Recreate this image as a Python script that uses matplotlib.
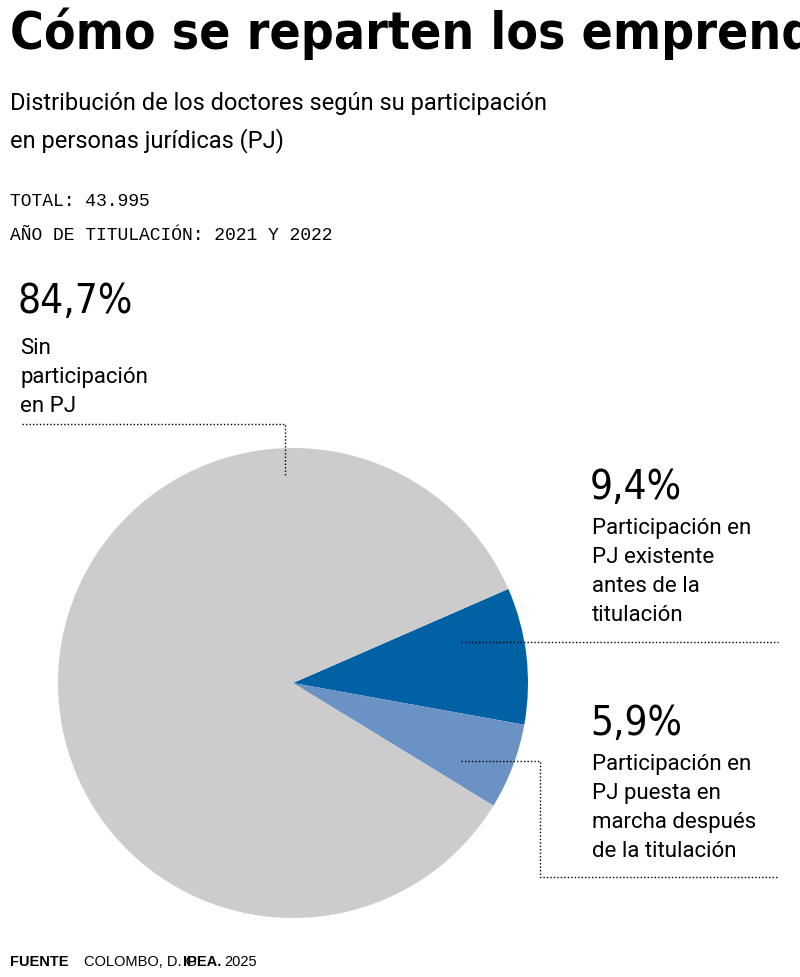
import matplotlib
matplotlib.use("Agg")
import matplotlib.pyplot as plt

labels = ["Participación en\nPJ existente\nantes de la\ntitulación",
          "Participación en\nPJ puesta en\nmarcha después\nde la titulación",
          "Sin\nparticipación\nen PJ"]
shares = [9.4, 5.9, 84.7]
colors = ["#0061a5", "#6b92c4", "#cccccc"]

fig = plt.figure(figsize=(8, 9.78), dpi=100)
ax = fig.add_axes([0, 0, 1, 1])

# pie starts at the upper edge of the dark slice
ax.pie(shares, colors=colors, center=(293, 684), radius=235,
       startangle=-23.6, counterclock=True, frame=True,
       wedgeprops=dict(linewidth=0))
ax.set_xlim(0, 800)
ax.set_ylim(978, 0)
ax.set_aspect("equal")
ax.axis("off")

ax.text(10, 8, "Cómo se reparten los emprendedores", fontsize=37,
        family="DejaVu Sans", stretch="condensed", weight="bold", va="top")
ax.text(10, 92, "Distribución de los doctores según su participación\nen personas jurídicas (PJ)",
        fontsize=17, family="Roboto", va="top", linespacing=1.65)
ax.text(10, 193, "TOTAL: 43.995", fontsize=13, family="Liberation Mono", va="top")
ax.text(10, 227, "AÑO DE TITULACIÓN: 2021 Y 2022", fontsize=13, family="Liberation Mono", va="top")

pct_pos = [(590, 468), (590, 704), (18, 282)]
lab_pos = [(592, 518), (592, 754), (20, 338)]
for s, l, pp, lp in zip(shares, labels, pct_pos, lab_pos):
    ax.text(pp[0], pp[1], f"{s:.1f}%".replace(".", ","), fontsize=29,
            family="DejaVu Sans", stretch="condensed", weight="light", va="top")
    ax.text(lp[0], lp[1], l, fontsize=16, family="Roboto", va="top", linespacing=1.5)

lk = dict(color="black", linestyle=(0, (1, 1.5)), linewidth=1)
ax.plot([22, 285, 285], [425, 425, 478], **lk)
ax.plot([461, 778], [643, 643], **lk)
ax.plot([461, 540, 540, 778], [762, 762, 878, 878], **lk)

ax.text(10, 966, "FUENTE", fontsize=10.5, weight="bold", family="Liberation Sans", va="baseline")
ax.text(84, 966, "COLOMBO, D. G.", fontsize=10.5, family="Liberation Sans", va="baseline")
ax.text(183, 966, "IPEA.", fontsize=10.5, weight="bold", family="Liberation Sans", va="baseline")
ax.text(224, 966, "2025", fontsize=10.5, family="Liberation Sans", va="baseline")

fig.savefig("out.png", dpi=100)
